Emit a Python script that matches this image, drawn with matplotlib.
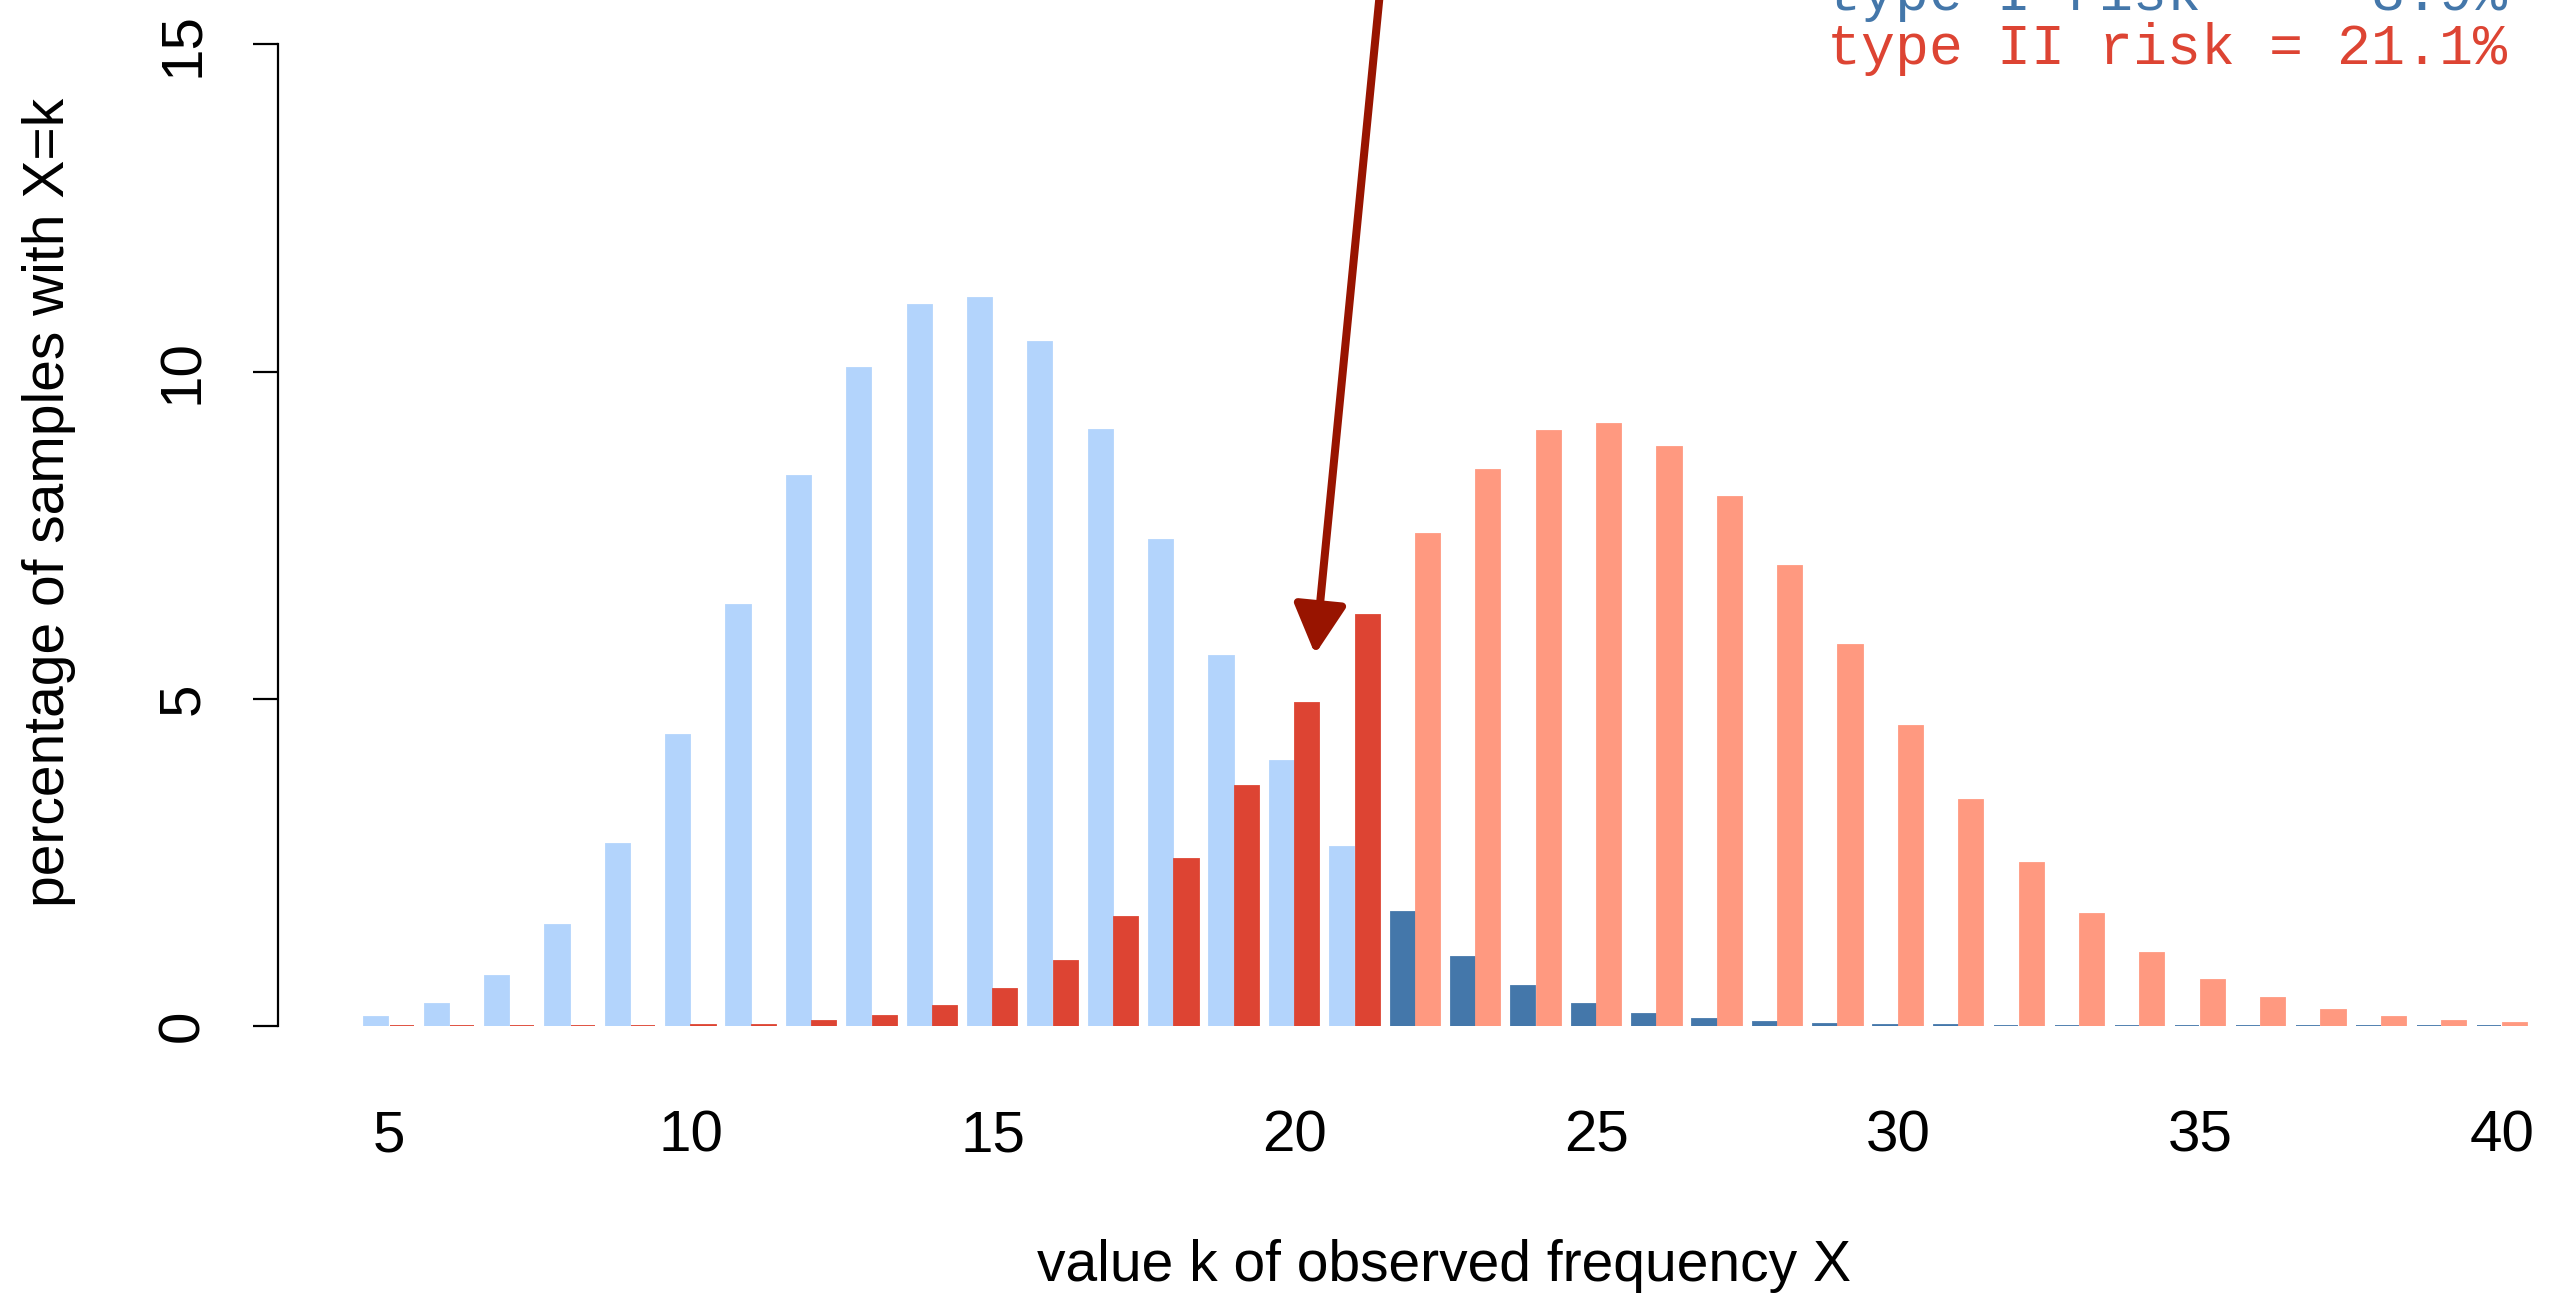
import numpy as np
import matplotlib
matplotlib.use("Agg")
import matplotlib.pyplot as plt

# observed frequency k and the percentage of samples under H0 / H1
k = np.arange(5, 41)
p_h0 = [0.13, 0.34, 0.76, 1.55, 2.78, 4.45, 6.43, 8.41, 10.05, 11.02,
        11.12, 10.45, 9.11, 7.42, 5.65, 4.05, 2.73, 1.74, 1.05, 0.61,
        0.34, 0.18, 0.10, 0.06, 0.03, 0.02, 0.01, 0.0, 0.0, 0.0,
        0.0, 0.0, 0.0, 0.0, 0.0, 0.0]
p_h1 = [0.0, 0.0, 0.0, 0.0, 0.0, 0.01, 0.02, 0.07, 0.15, 0.30,
        0.57, 1.00, 1.66, 2.55, 3.67, 4.94, 6.28, 7.52, 8.50, 9.09,
        9.20, 8.85, 8.09, 7.03, 5.82, 4.59, 3.46, 2.49, 1.71, 1.12,
        0.70, 0.43, 0.25, 0.14, 0.08, 0.04]
k_crit = 22
risk_labels = ["type I risk  =  3.9%", "type II risk = 21.1%"]
x_ticks = [5, 10, 15, 20, 25, 30, 35, 40]
y_ticks = [0, 5, 10, 15]

c_h0_light, c_h0_dark = "#b3d4fc", "#4477aa"
c_h1_dark, c_h1_light = "#dd4433", "#ff9980"
c_arrow = "#981400"

plt.rcParams['font.family'] = ['Liberation Sans', 'DejaVu Sans']

W, H = 2561, 1297
fig = plt.figure(figsize=(W / 100, H / 100), dpi=100)
x0_px, x1_px, y0_px = 278, 2545, 1026
px_per_k = 60.37
px_per_pct = 65.44
ax = fig.add_axes([x0_px / W, (H - y0_px) / H, (x1_px - x0_px) / W, y0_px / H])
ax.set_xlim(5 - (389 - x0_px) / px_per_k, 5 + (x1_px - 389) / px_per_k)
ax.set_ylim(0, y0_px / px_per_pct)

bw = 0.40
col0 = [c_h0_dark if kk >= k_crit else c_h0_light for kk in k]
col1 = [c_h1_light if kk >= k_crit else c_h1_dark for kk in k]
ax.bar(k - 0.21, p_h0, width=bw, color=col0, edgecolor=col0, linewidth=1.3)
ax.bar(k + 0.21, p_h1, width=bw, color=col1, edgecolor=col1, linewidth=1.3)

for s in ["top", "right", "bottom"]:
    ax.spines[s].set_visible(False)
ax.spines["left"].set_bounds(0, 15)
ax.spines["left"].set_linewidth(1.6)
ax.set_yticks(y_ticks)
ax.set_xticks(x_ticks)
ax.tick_params(axis="y", length=18, width=1.6, labelsize=42, pad=31)
ax.tick_params(axis="x", length=0, labelsize=42, pad=60)
for lab in ax.get_yticklabels():
    lab.set_rotation(90)
    lab.set_va("center")

fig.text(1444 / W, 1 - 1266 / H, "value k of observed frequency X",
         ha="center", va="center", fontsize=41)
fig.text(49 / W, 1 - 502 / H, "percentage of samples with X=k",
         ha="center", va="center", rotation=90, fontsize=41)

mono = ["Liberation Mono", "DejaVu Sans Mono"]
fig.text(2507 / W, 1 - (-5) / H, risk_labels[0], ha="right", va="center",
         fontsize=40.8, family=mono, color=c_h0_dark)
fig.text(2507 / W, 1 - 49 / H, risk_labels[1], ha="right", va="center",
         fontsize=40.8, family=mono, color=c_h1_dark)

# arrow pointing at the boundary of the critical region
ax.annotate("", xy=(20.34, 5.68), xytext=(21.5, 16.6),
            annotation_clip=False,
            arrowprops=dict(arrowstyle="-|>,head_length=3.0,head_width=1.6",
                            color=c_arrow, lw=5.8, shrinkA=0, shrinkB=0))

fig.savefig("out.png", dpi=100)
